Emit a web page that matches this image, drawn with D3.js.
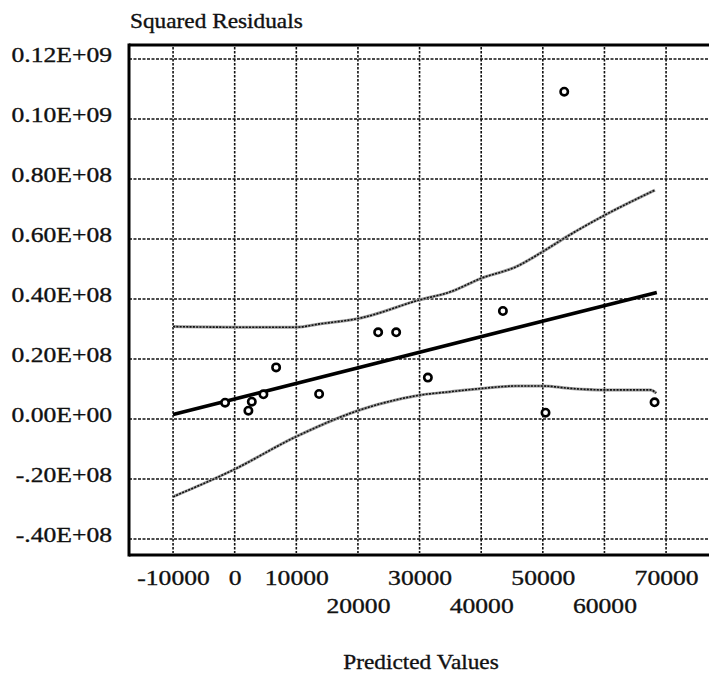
<!DOCTYPE html>
<html>
<head>
<meta charset="utf-8">
<script src="https://cdn.jsdelivr.net/npm/d3@7"></script>
<style>
  body { margin: 0; background: #fff; }
  svg text { font-family: "Liberation Serif", "Times New Roman", serif; fill: #111; stroke: #111; stroke-width: 0.35px; }
</style>
</head>
<body>
<div class="chart"></div>
<script>
// values
const predicted = [-1558, 2224, 2776, 4659, 6721, 13701, 23279, 26201, 31347, 43523, 50438, 53474, 68133];
const residSq = [5.43e6, 2.77e6, 5.77e6, 8.23e6, 1.72e7, 8.33e6, 2.89e7, 2.89e7, 1.38e7, 3.6e7, 2.1e6, 1.091e8, 5.57e6];
// fitted line endpoints
const fitX = [-10000, 68500];
const fitY = [1.5e6, 4.22e7];
// confidence band edges
const upperX = [-10000, 0, 10000, 13800, 20300, 30000, 35000, 40000, 45700, 50000, 53900, 60100, 68200];
const upperY = [3.08e7, 3.06e7, 3.06e7, 3.17e7, 3.36e7, 3.97e7, 4.24e7, 4.69e7, 5.08e7, 5.58e7, 6.08e7, 6.8e7, 7.63e7];
const lowerX = [-10000, -260, 9950, 20300, 23500, 30200, 35000, 40100, 45800, 50000, 54500, 60100, 67500, 68400];
const lowerY = [-2.59e7, -1.7e7, -5.9e6, 3.0e6, 5.0e6, 8.0e6, 9.1e6, 1.02e7, 1.1e7, 1.1e7, 1.02e7, 9.7e6, 9.7e6, 8.6e6];
// ticks
const xTicks = [-10000, 0, 10000, 20000, 30000, 40000, 50000, 60000, 70000];
const yTicks = [-4e7, -2e7, 0, 2e7, 4e7, 6e7, 8e7, 1e8, 1.2e8];
const yTickLabels = ["-.40E+08", "-.20E+08", "0.00E+00", "0.20E+08", "0.40E+08", "0.60E+08", "0.80E+08", "0.10E+09", "0.12E+09"];

const W = 709, H = 675;
const plotLeft = 129, plotTop = 45, plotBottom = 555;
const stretch = 1.22, titleStretch = 1.11;
const serif = '"Liberation Serif", "Times New Roman", serif';

const svg = d3.select(".chart").append("svg")
    .attr("width", W)
    .attr("height", H);
svg.append("rect").attr("width", W).attr("height", H).attr("fill", "#fff");

const x = d3.scaleLinear().domain([-17150, 80000]).range([plotLeft, 727.7]);
const y = d3.scaleLinear().domain([-4.533e7, 1.2467e8]).range([plotBottom, plotTop]);

// grid
const grid = svg.append("g").attr("class", "grid");
grid.selectAll(".hgrid").data(yTicks).enter().append("line")
    .attr("class", "hgrid")
    .attr("x1", plotLeft).attr("x2", W)
    .attr("y1", d => y(d)).attr("y2", d => y(d))
    .attr("stroke", "#111").attr("stroke-width", 1.6)
    .attr("stroke-dasharray", "3,1.5");
grid.selectAll(".vgrid").data(xTicks).enter().append("line")
    .attr("class", "vgrid")
    .attr("x1", d => x(d)).attr("x2", d => x(d))
    .attr("y1", plotTop + 2).attr("y2", plotBottom - 2)
    .attr("stroke", "#111").attr("stroke-width", 1.6)
    .attr("stroke-dasharray", "2.5,1.5");

// confidence band edges (rippled look: grey base + dark dashes)
const line = d3.line().x(d => x(d[0])).y(d => y(d[1])).curve(d3.curveMonotoneX);
const bands = [d3.zip(upperX, upperY), d3.zip(lowerX, lowerY)];
bands.forEach(b => {
    svg.append("path").datum(b)
        .attr("d", line).attr("fill", "none")
        .attr("stroke", "#9a9a9a").attr("stroke-width", 3);
    svg.append("path").datum(b)
        .attr("d", line).attr("fill", "none")
        .attr("stroke", "#111").attr("stroke-width", 1.6)
        .attr("stroke-dasharray", "2,1.3");
});

// fitted line
svg.append("path").datum(d3.zip(fitX, fitY))
    .attr("d", d3.line().x(d => x(d[0])).y(d => y(d[1])))
    .attr("fill", "none").attr("stroke", "#000").attr("stroke-width", 3.6);

// points
svg.selectAll(".pt").data(d3.zip(predicted, residSq)).enter().append("circle")
    .attr("class", "pt")
    .attr("cx", d => x(d[0])).attr("cy", d => y(d[1]))
    .attr("r", 3.7)
    .attr("fill", "#fff").attr("stroke", "#000").attr("stroke-width", 2.6);

// frame
const frame = svg.append("g");
frame.append("line").attr("x1", plotLeft).attr("x2", plotLeft).attr("y1", plotTop - 1.5).attr("y2", plotBottom + 1.5)
    .attr("stroke", "#000").attr("stroke-width", 3);
frame.append("line").attr("x1", plotLeft).attr("x2", W).attr("y1", plotTop).attr("y2", plotTop)
    .attr("stroke", "#000").attr("stroke-width", 3);
frame.append("line").attr("x1", plotLeft).attr("x2", W).attr("y1", plotBottom).attr("y2", plotBottom)
    .attr("stroke", "#000").attr("stroke-width", 3);

// axes
const yAxis = d3.axisLeft(y).tickValues(yTicks)
    .tickFormat((d, i) => yTickLabels[i]).tickSize(0);
const gy = svg.append("g").attr("class", "axis y-axis")
    .attr("transform", `translate(${plotLeft},0)`)
    .call(yAxis);
gy.select(".domain").remove();
gy.attr("font-family", serif);
gy.selectAll("text")
    .attr("x", -17 / stretch).attr("y", 2).attr("dy", 0)
    .attr("text-anchor", "end")
    .attr("transform", `scale(${stretch},1)`)
    .style("font-size", "21px");

const xAxis = d3.axisBottom(x).tickValues(xTicks).tickFormat(d => String(d)).tickSize(0);
const gx = svg.append("g").attr("class", "axis x-axis")
    .attr("transform", `translate(0,${plotBottom})`)
    .call(xAxis);
gx.select(".domain").remove();
gx.attr("font-family", serif);
gx.selectAll("text")
    .attr("x", 0).attr("dy", 0)
    .attr("y", d => (d === 20000 || d === 40000 || d === 60000) ? 58 : 30)
    .attr("text-anchor", "middle")
    .attr("transform", `scale(${stretch},1)`)
    .style("font-size", "21px");

// titles
svg.append("text")
    .attr("transform", `translate(130,28) scale(${titleStretch},1)`)
    .style("font-family", serif)
    .style("font-size", "21px")
    .text("Squared Residuals");
svg.append("text")
    .attr("transform", `translate(421,669) scale(${titleStretch},1)`)
    .attr("text-anchor", "middle")
    .style("font-family", serif)
    .style("font-size", "21px")
    .text("Predicted Values");
</script>
</body>
</html>
